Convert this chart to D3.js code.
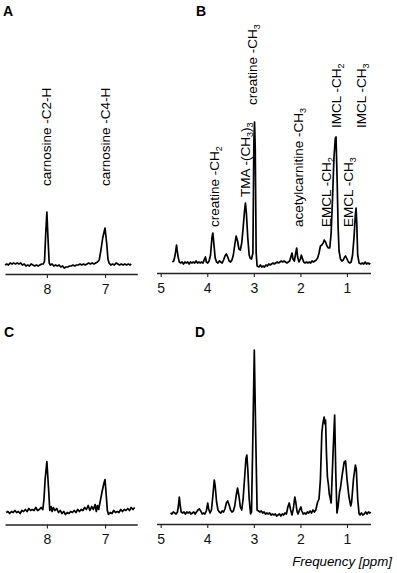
<!DOCTYPE html>
<html><head><meta charset="utf-8">
<script src="https://cdn.jsdelivr.net/npm/d3@7"></script>
<style>
body{margin:0;background:#fff}
svg{display:block}
text{font-family:"Liberation Sans",Arial,Helvetica,sans-serif}
</style>
</head><body><svg id="c" width="397" height="573"></svg>
<script>
// ---------- DATA (ppm, intensity) ----------
const spectrumA = [
[8.72,9],[8.69,10],[8.66,9],[8.63,11],[8.60,10],[8.57,11],[8.54,10],[8.51,11],[8.48,10],[8.45,11],
[8.42,9],[8.39,10],[8.36,8],[8.33,9],[8.30,8],[8.27,10],[8.24,9],[8.21,8],[8.18,9],[8.15,8],
[8.12,9],[8.09,10],[8.06,10],[8.04,13],[8.02,40],[8.00,62],[7.98,35],[7.96,11],[7.94,9],[7.91,10],
[7.88,8],[7.85,9],[7.82,8],[7.79,9],[7.76,7],[7.73,8],[7.70,6],[7.67,7],[7.64,7],[7.61,8],
[7.58,8],[7.55,9],[7.52,8],[7.49,9],[7.46,9],[7.43,10],[7.40,9],[7.37,10],[7.34,9],[7.31,10],
[7.28,11],[7.25,10],[7.22,11],[7.19,10],[7.16,11],[7.13,12],[7.10,14],[7.07,24],[7.04,36],[7.00,46],
[6.97,30],[6.95,15],[6.93,11],[6.90,9],[6.87,10],[6.84,9],[6.81,11],[6.78,10],[6.75,9],[6.72,10],
[6.69,9],[6.66,10],[6.63,9],[6.60,10],[6.57,9],[6.55,10]
];
const spectrumB = [
[4.75,11],[4.72,12],[4.69,18],[4.66,28],[4.63,17],[4.60,11],[4.57,10],[4.54,11],[4.51,9],[4.48,11],
[4.45,10],[4.42,11],[4.39,9],[4.36,11],[4.33,10],[4.30,11],[4.27,10],[4.24,12],[4.21,10],[4.18,11],
[4.15,10],[4.12,11],[4.09,10],[4.06,14],[4.04,16],[4.02,11],[3.99,10],[3.96,12],[3.93,18],[3.90,35],
[3.88,40],[3.86,30],[3.83,15],[3.80,11],[3.77,10],[3.74,12],[3.71,11],[3.68,10],[3.65,13],[3.62,17],
[3.59,19],[3.56,16],[3.53,12],[3.50,11],[3.47,13],[3.44,18],[3.41,28],[3.38,37],[3.35,32],[3.32,24],
[3.29,23],[3.26,30],[3.23,45],[3.20,62],[3.18,70],[3.16,60],[3.13,35],[3.10,18],[3.08,15],[3.05,14],
[3.02,20],[3.00,130],[2.985,151],[2.97,125],[2.95,20],[2.93,7],[2.89,6],[2.86,8],[2.83,6],[2.80,7],
[2.77,6],[2.74,8],[2.71,7],[2.68,9],[2.65,8],[2.62,9],[2.59,10],[2.56,9],[2.53,10],[2.50,11],
[2.47,10],[2.44,11],[2.41,12],[2.38,11],[2.35,12],[2.32,11],[2.29,10],[2.26,11],[2.23,12],[2.20,17],
[2.18,20],[2.16,14],[2.13,12],[2.10,20],[2.08,25],[2.06,16],[2.03,11],[2.00,14],[1.98,18],[1.96,15],
[1.93,11],[1.90,10],[1.87,11],[1.84,10],[1.81,11],[1.78,10],[1.75,12],[1.72,11],[1.69,12],[1.66,13],
[1.63,15],[1.60,20],[1.57,27],[1.54,28],[1.51,30],[1.49,33],[1.46,31],[1.43,27],[1.40,25],[1.37,25],
[1.34,40],[1.31,75],[1.28,115],[1.25,135],[1.235,136],[1.21,90],[1.19,45],[1.17,22],[1.14,14],[1.11,12],
[1.08,13],[1.05,16],[1.03,17],[1.00,14],[0.97,11],[0.94,10],[0.91,11],[0.88,18],[0.85,35],[0.82,58],
[0.805,65],[0.79,50],[0.77,18],[0.74,10],[0.70,9],[0.67,10],[0.64,9],[0.61,11],[0.58,9],[0.55,10],
[0.52,9],[0.50,10]
];
const spectrumC = [
[8.70,12],[8.67,13],[8.64,11],[8.61,13],[8.58,12],[8.55,14],[8.52,12],[8.49,13],[8.46,11],[8.43,14],
[8.40,13],[8.37,15],[8.34,13],[8.31,16],[8.28,14],[8.25,15],[8.22,14],[8.19,17],[8.16,14],[8.13,15],
[8.10,17],[8.07,15],[8.05,25],[8.03,45],[8.00,63],[7.97,35],[7.95,14],[7.93,18],[7.91,13],[7.89,17],
[7.86,14],[7.83,16],[7.80,12],[7.77,14],[7.74,11],[7.71,13],[7.68,10],[7.65,12],[7.62,11],[7.59,13],
[7.56,12],[7.53,14],[7.50,12],[7.47,15],[7.44,13],[7.41,15],[7.38,14],[7.35,17],[7.32,15],[7.29,19],
[7.26,14],[7.23,18],[7.20,15],[7.17,20],[7.15,13],[7.13,19],[7.11,15],[7.08,24],[7.05,33],[7.02,41],
[7.00,45],[6.98,30],[6.96,14],[6.94,10],[6.91,12],[6.88,11],[6.85,14],[6.82,12],[6.79,13],[6.76,12],
[6.73,15],[6.70,13],[6.67,15],[6.64,14],[6.61,16],[6.58,14],[6.55,17],[6.52,15],[6.49,17]
];
const spectrumD = [
[4.79,11],[4.76,10],[4.73,12],[4.70,11],[4.67,10],[4.64,12],[4.62,18],[4.60,27],[4.58,18],[4.56,12],
[4.53,11],[4.50,12],[4.47,10],[4.44,12],[4.41,11],[4.38,12],[4.35,10],[4.32,11],[4.29,12],[4.26,10],
[4.23,12],[4.20,14],[4.17,15],[4.14,13],[4.11,10],[4.08,11],[4.05,10],[4.02,13],[3.99,21],[3.97,15],
[3.94,11],[3.91,14],[3.88,28],[3.85,44],[3.83,38],[3.80,22],[3.77,14],[3.74,12],[3.71,11],[3.68,13],
[3.65,12],[3.62,15],[3.59,21],[3.56,23],[3.53,19],[3.50,14],[3.47,12],[3.44,13],[3.41,18],[3.38,28],
[3.35,36],[3.32,28],[3.29,17],[3.26,14],[3.23,25],[3.20,45],[3.17,65],[3.15,69],[3.13,55],[3.10,25],
[3.07,10],[3.05,12],[3.02,90],[2.99,174],[2.96,90],[2.93,14],[2.90,13],[2.87,12],[2.84,13],[2.81,11],
[2.78,12],[2.75,10],[2.72,11],[2.69,10],[2.66,11],[2.63,9],[2.60,10],[2.57,9],[2.54,10],[2.51,8],
[2.48,9],[2.45,10],[2.42,8],[2.39,10],[2.36,9],[2.33,11],[2.30,10],[2.27,17],[2.24,21],[2.21,14],
[2.18,9],[2.15,16],[2.12,27],[2.10,22],[2.07,12],[2.05,10],[2.02,14],[1.99,17],[1.97,13],[1.94,10],
[1.91,11],[1.88,10],[1.85,12],[1.82,11],[1.79,13],[1.76,11],[1.73,14],[1.70,12],[1.67,14],[1.65,18],
[1.63,22],[1.60,25],[1.57,45],[1.54,91],[1.52,100],[1.49,107],[1.475,100],[1.46,104],[1.44,70],[1.42,47],
[1.40,40],[1.38,30],[1.36,26],[1.34,21],[1.30,70],[1.265,109],[1.24,50],[1.215,11],[1.19,18],[1.16,32],
[1.14,36],[1.10,50],[1.06,62],[1.03,63],[1.00,45],[0.96,28],[0.92,18],[0.90,22],[0.86,45],[0.82,59],
[0.80,55],[0.77,25],[0.74,10],[0.72,9],[0.69,11],[0.66,9],[0.63,10],[0.60,12],[0.57,10],[0.54,12],
[0.51,11],[0.49,12]
];
const ticksAromatic = [8, 7];
const ticksAliphatic = [5, 4, 3, 2, 1];
const panelLetters = ["A", "B", "C", "D"];
const xAxisTitle = "Frequency [ppm]";
// peak labels: segments [text, subscript?], ppm position, intensity level where the label starts
const labelsA = [
  {seg: [["carnosine -C2-H", 0]], ppm: 8.0, level: 88},
  {seg: [["carnosine -C4-H", 0]], ppm: 7.0, level: 88}
];
const labelsB = [
  {seg: [["creatine -CH", 0], ["2", 1]], ppm: 3.84, level: 46},
  {seg: [["TMA -(CH", 0], ["3", 1], [")", 0], ["3", 1]], ppm: 3.18, level: 76},
  {seg: [["creatine -CH", 0], ["3", 1]], ppm: 3.02, level: 168},
  {seg: [["acetylcarnitine -CH", 0], ["3", 1]], ppm: 2.05, level: 46},
  {seg: [["EMCL -CH", 0], ["2", 1]], ppm: 1.45, level: 46},
  {seg: [["IMCL -CH", 0], ["2", 1]], ppm: 1.225, level: 145},
  {seg: [["EMCL -CH", 0], ["3", 1]], ppm: 0.97, level: 46},
  {seg: [["IMCL -CH", 0], ["3", 1]], ppm: 0.69, level: 145}
];

// ---------- LAYOUT ----------
const svg = d3.select("#c");
const panels = [
  {letter: panelLetters[0], data: spectrumA, ticks: ticksAromatic, dom: [8.72, 6.445], r: [5, 137.3], axisY: 274, labels: labelsA, lx: 3, ly: 15.5},
  {letter: panelLetters[1], data: spectrumB, ticks: ticksAliphatic, dom: [5.09, 0.495], r: [156.5, 370.5], axisY: 273, labels: labelsB, lx: 196, ly: 15.5},
  {letter: panelLetters[2], data: spectrumC, ticks: ticksAromatic, dom: [8.72, 6.445], r: [5, 137.3], axisY: 524.5, labels: [], lx: 4, ly: 337},
  {letter: panelLetters[3], data: spectrumD, ticks: ticksAliphatic, dom: [5.09, 0.495], r: [156.5, 370.5], axisY: 524, labels: [], lx: 195, ly: 337}
];

panels.forEach(p => {
  const g = svg.append("g");
  const x = d3.scaleLinear().domain(p.dom).range(p.r);
  const y = d3.scaleLinear().domain([0, 200]).range([p.axisY, p.axisY - 200]);

  const ax = g.append("g")
    .attr("transform", `translate(0,${p.axisY})`)
    .call(d3.axisBottom(x).tickValues(p.ticks).tickSize(4).tickSizeOuter(0).tickPadding(6).tickFormat(d3.format("d")));
  ax.select(".domain").attr("stroke", "#222").attr("stroke-width", 1.3);
  ax.selectAll(".tick line").attr("stroke", "#222").attr("stroke-width", 1.1);
  ax.selectAll(".tick text").attr("font-size", 14).attr("fill", "#111")
    .attr("font-family", '"Liberation Sans",Arial,sans-serif');

  g.append("path").datum(p.data)
    .attr("fill", "none").attr("stroke", "#000").attr("stroke-width", 1.7)
    .attr("stroke-linejoin", "round")
    .attr("d", d3.line().x(d => x(d[0])).y(d => y(d[1])));

  p.labels.forEach(l => {
    const t = g.append("text")
      .attr("transform", `translate(${x(l.ppm) + 4.5},${y(l.level)}) rotate(-90)`)
      .attr("font-size", 13.5).attr("fill", "#000");
    let sub = false;
    l.seg.forEach(s => {
      const ts = t.append("tspan").text(s[0]);
      if (s[1] && !sub) { ts.attr("font-size", 9).attr("dy", 3); sub = true; }
      else if (!s[1] && sub) { ts.attr("dy", -3); sub = false; }
      else if (s[1]) ts.attr("font-size", 9);
    });
  });

  svg.append("text").attr("x", p.lx).attr("y", p.ly)
    .attr("font-size", 14).attr("font-weight", "bold").text(p.letter);
});

svg.append("text").attr("x", 392).attr("y", 566).attr("text-anchor", "end")
  .attr("font-size", 13.3).attr("font-style", "italic").text(xAxisTitle);
</script>
</body></html>
